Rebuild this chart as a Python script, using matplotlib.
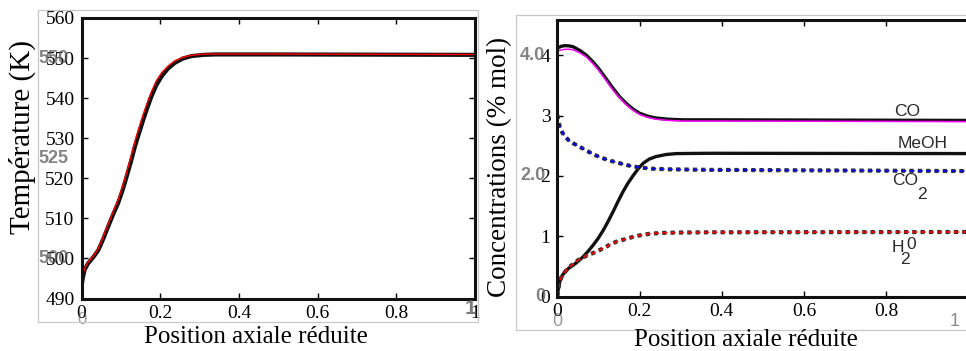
import matplotlib
matplotlib.use('Agg')
import matplotlib.pyplot as plt
from matplotlib.patches import Rectangle

W, H = 966, 351

# profil de temperature (K) le long du reacteur
x_T = [0.0, 0.003, 0.008, 0.017, 0.03, 0.043, 0.055, 0.068, 0.08, 0.093, 0.104,
       0.115, 0.126, 0.136, 0.147, 0.157, 0.168, 0.178, 0.19, 0.204, 0.22,
       0.237, 0.258, 0.28, 0.31, 0.339, 0.5, 1.0]
T_ref = [492.9, 495.0, 497.2, 498.8, 500.3, 502.1, 504.8, 508.0, 510.9, 513.8, 516.9,
         520.5, 524.3, 528.0, 531.5, 534.6, 537.8, 540.5, 543.2, 545.5, 547.4,
         548.8, 549.9, 550.5, 550.8, 550.9, 550.9, 550.8]
T_sim = [493.3, 495.6, 497.6, 499.1, 500.6, 502.5, 505.4, 508.6, 511.6, 514.6, 517.9,
         521.6, 525.5, 529.3, 532.9, 536.0, 539.1, 541.7, 544.3, 546.4, 548.0,
         549.3, 550.2, 550.7, 551.0, 551.0, 551.0, 550.9]

# concentrations (% mol)
x_CO = [0.0, 0.01, 0.019, 0.03, 0.039, 0.055, 0.071, 0.087, 0.103, 0.12, 0.136,
        0.152, 0.168, 0.184, 0.2, 0.22, 0.24, 0.27, 0.305, 0.37, 1.0]
CO_ref = [4.12, 4.15, 4.16, 4.155, 4.14, 4.08, 4.00, 3.89, 3.76, 3.60, 3.45,
          3.31, 3.20, 3.11, 3.04, 2.99, 2.96, 2.94, 2.93, 2.93, 2.92]
CO_sim = [4.07, 4.09, 4.10, 4.10, 4.09, 4.04, 3.97, 3.86, 3.73, 3.57, 3.42,
          3.29, 3.18, 3.09, 3.02, 2.97, 2.94, 2.92, 2.91, 2.91, 2.90]

x_CO2 = [0.0, 0.003, 0.007, 0.012, 0.019, 0.028, 0.039, 0.055, 0.071, 0.09, 0.112,
         0.13, 0.152, 0.175, 0.2, 0.23, 0.265, 0.37, 1.0]
CO2 = [3.01, 2.90, 2.79, 2.72, 2.65, 2.59, 2.54, 2.48, 2.42, 2.35, 2.29,
       2.25, 2.21, 2.17, 2.14, 2.12, 2.11, 2.10, 2.08]

x_MeOH = [0.0, 0.003, 0.007, 0.012, 0.019, 0.028, 0.039, 0.05, 0.063, 0.075, 0.087,
          0.1, 0.112, 0.124, 0.136, 0.148, 0.16, 0.172, 0.185, 0.197, 0.209,
          0.224, 0.24, 0.265, 0.29, 0.37, 1.0]
MeOH = [0.0, 0.15, 0.27, 0.35, 0.41, 0.47, 0.52, 0.58, 0.66, 0.75, 0.85,
        0.97, 1.10, 1.25, 1.41, 1.58, 1.74, 1.88, 2.01, 2.12, 2.21,
        2.28, 2.32, 2.355, 2.37, 2.375, 2.37]

x_H2O = [0.0, 0.003, 0.007, 0.012, 0.019, 0.028, 0.039, 0.05, 0.063, 0.075, 0.087,
         0.1, 0.112, 0.128, 0.144, 0.165, 0.185, 0.205, 0.225, 0.255, 0.29, 0.37, 1.0]
H2O = [0.0, 0.15, 0.27, 0.35, 0.41, 0.48, 0.54, 0.60, 0.65, 0.69, 0.72,
       0.76, 0.80, 0.86, 0.91, 0.95, 0.99, 1.02, 1.04, 1.055, 1.06, 1.065, 1.07]

T_ticks = [490, 500, 510, 520, 530, 540, 550, 560]
C_ticks = [0, 1, 2, 3, 4]
x_ticks = [0, 0.2, 0.4, 0.6, 0.8, 1]
x_labels = ['0', '0.2', '0.4', '0.6', '0.8', '1']

serif = 'Liberation Serif'
sans = 'Liberation Sans'
ghost = '#5a5a5a'


def fr(x0, y0, x1, y1):
    # boite en pixels -> fraction de figure [gauche, bas, largeur, hauteur]
    return [x0 / W, 1 - y1 / H, (x1 - x0) / W, (y1 - y0) / H]


fig = plt.figure(figsize=(W / 100, H / 100), dpi=100)
fig.patch.set_facecolor('white')

# cadres gris autour des deux figures
for (x0, y0, x1, y1) in [(38, 10, 478, 322), (516, 15, 972, 330)]:
    fig.add_artist(Rectangle((x0 / W, 1 - y1 / H), (x1 - x0) / W, (y1 - y0) / H,
                             transform=fig.transFigure, fill=False,
                             edgecolor='#c8c8c8', lw=0.9))


def style(ax, nx):
    for s in ax.spines.values():
        s.set_linewidth(2.2)
        s.set_color('#111111')
    ax.tick_params(direction='in', length=4, width=1, top=True, right=True,
                   labelsize=14, pad=5)
    ax.set_xticks(x_ticks[:nx])
    ax.set_xticklabels(x_labels[:nx], fontfamily=serif)


# --- temperature ---
ax1 = fig.add_axes(fr(81.5, 18, 475, 298.5))
ax1.plot(x_T, T_ref, color='#111111', lw=3.0, solid_capstyle='round')
ax1.plot(x_T, T_sim, color='#ff0000', lw=1.0)
ax1.set_xlim(0, 1)
ax1.set_ylim(490, 560)
ax1.set_yticks(T_ticks)
style(ax1, 6)
ax1.set_yticklabels([str(v) for v in T_ticks], fontfamily=serif)

for v in [550, 525, 500]:
    ax1.annotate(str(v), xy=(0, v), xycoords=('axes fraction', 'data'),
                 xytext=(-13, 0), textcoords='offset pixels', ha='right',
                 va='center', fontsize=13, fontfamily=sans, fontweight='bold',
                 color=ghost, alpha=0.75)
ax1.annotate('0', xy=(0, 0), xycoords='axes fraction', xytext=(0, -21),
             textcoords='offset pixels', ha='center', va='center',
             fontsize=12, fontfamily=sans, color=ghost, alpha=0.6)
ax1.annotate('1', xy=(1, 0), xycoords='axes fraction', xytext=(-4, -10),
             textcoords='offset pixels', ha='center', va='center',
             fontsize=15, fontfamily=sans, fontweight='bold', color=ghost, alpha=0.8)

fig.text(22 / W, 1 - 137 / H, 'Température (K)', rotation=90, ha='center',
         va='center', fontsize=21, fontfamily=serif)
fig.text(256 / W, 1 - 337 / H, 'Position axiale réduite', ha='center',
         va='center', fontsize=18, fontfamily=serif)

# --- concentrations ---
ax2 = fig.add_axes(fr(557.3, 20, 966, 296.5))
ax2.plot(x_CO, CO_ref, color='#111111', lw=2.4)
ax2.plot(x_CO, CO_sim, color='#ff00ff', lw=1.1)
ax2.plot(x_MeOH, MeOH, color='#111111', lw=2.4)
ax2.plot(x_CO2, CO2, color='#333333', lw=3.0, ls=(0, (1, 1)))
ax2.plot(x_CO2, CO2, color='#0000ff', lw=1.2, ls=(0, (3, 2)))
ax2.plot(x_H2O, H2O, color='#333333', lw=3.0, ls=(0, (1, 1)))
ax2.plot(x_H2O, H2O, color='#ff0000', lw=1.2, ls=(0, (3, 2)))
ax2.set_xlim(0, (966 - 557.3) / 411)
ax2.set_ylim(0, (296.5 - 20) / 60.3)
ax2.set_yticks(C_ticks)
style(ax2, 5)
ax2.spines['right'].set_visible(False)
ax2.tick_params(right=False)
ax2.set_yticklabels([str(v) for v in C_ticks], fontfamily=serif)

for v, s in [(4, '4.0'), (2, '2.0'), (0, '0')]:
    ax2.annotate(s, xy=(0, v), xycoords=('axes fraction', 'data'),
                 xytext=(-12, 0), textcoords='offset pixels', ha='right',
                 va='center', fontsize=13, fontfamily=sans, fontweight='bold',
                 color=ghost, alpha=0.75)
ax2.annotate('0', xy=(0, 0), xycoords='axes fraction', xytext=(0, -25),
             textcoords='offset pixels', ha='center', va='center',
             fontsize=13, fontfamily=sans, color=ghost, alpha=0.6)
ax2.annotate('1', xy=(955 / W, 1 - 321 / H), xycoords='figure fraction',
             ha='center', va='center', fontsize=13, fontfamily=sans,
             color=ghost, alpha=0.7)

lab = dict(fontsize=12.5, fontfamily=sans, color='#2a2a2a', ha='center', va='center')
ax2.text(0.851, 3.06, 'CO', **lab)
ax2.text(0.89, 2.53, 'MeOH', **lab)
ax2.text(0.847, 1.93, 'CO', **lab)
ax2.text(0.887, 1.69, '2', **lab)
ax2.text(0.828, 0.82, 'H', **lab)
ax2.text(0.846, 0.62, '2', **lab)
ax2.text(0.862, 0.86, '0', **lab)

fig.text(500 / W, 1 - 167 / H, 'Concentrations (% mol)', rotation=90,
         ha='center', va='center', fontsize=19.5, fontfamily=serif)
fig.text(746 / W, 1 - 340 / H, 'Position axiale réduite', ha='center',
         va='center', fontsize=18, fontfamily=serif)

fig.savefig('out.png', dpi=100, facecolor='white')
